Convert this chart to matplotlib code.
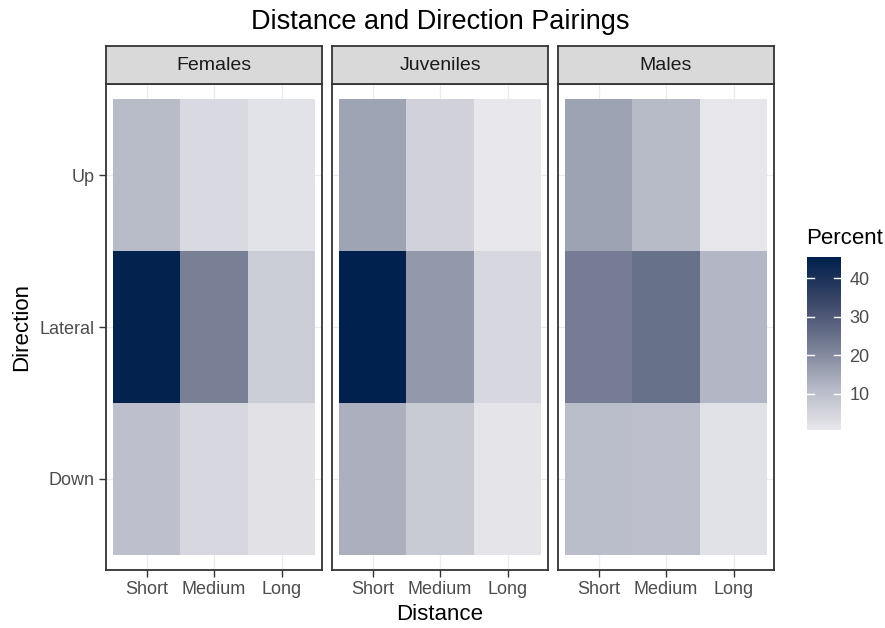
import numpy as np
import matplotlib
matplotlib.use("Agg")
import matplotlib.pyplot as plt
from matplotlib.colors import LinearSegmentedColormap, Normalize
from matplotlib.patches import Rectangle

plt.rcParams['font.family'] = ['Liberation Sans', 'DejaVu Sans']

# ---- data -------------------------------------------------------------
groups = ["Females", "Juveniles", "Males"]
distances = ["Short", "Medium", "Long"]
directions = ["Down", "Lateral", "Up"]

# percent per (direction, distance); rows follow `directions`, cols `distances`
females = [[10.0, 4.5, 2.2],
           [45.0, 22.0, 6.5],
           [11.0, 3.8, 1.8]]
juveniles = [[13.3, 7.5, 1.5],
             [45.6, 17.5, 4.5],
             [15.3, 5.9, 0.5]]
males = [[10.5, 10.0, 2.0],
         [22.7, 25.2, 12.0],
         [15.5, 11.2, 1.0]]
panels = [females, juveniles, males]
cbar_ticks = [10, 20, 30, 40]

# ---- colour scale -----------------------------------------------------
cmap = LinearSegmentedColormap.from_list(
    "percent",
    [(0.0, "#E8E8EC"), (0.25, "#B4B7C5"), (0.5, "#737B92"),
     (0.75, "#3A4667"), (1.0, "#00204D")])
allvals = np.array(panels, float)
norm = Normalize(vmin=allvals.min(), vmax=allvals.max())

# ---- figure -----------------------------------------------------------
W, H = 885, 628
fig = plt.figure(figsize=(W / 100, H / 100), dpi=100)

def px(x0, y0, x1, y1):
    return [x0 / W, 1 - y1 / H, (x1 - x0) / W, (y1 - y0) / H]

panel_x = [(106, 322), (332, 548), (558, 774)]
panel_top, panel_bot = 84, 570
strip_top = 46
border = "#333333"
tick_fs = 13

for k, (name, data) in enumerate(zip(groups, panels)):
    x0, x1 = panel_x[k]
    ax = fig.add_axes(px(x0, panel_top, x1, panel_bot))
    ax.set_xlim(0.4, 3.6)
    ax.set_ylim(0.4, 3.6)
    for v in range(1, 4):
        ax.axvline(v, color="#EBEBEB", lw=0.9, zorder=0)
        ax.axhline(v, color="#EBEBEB", lw=0.9, zorder=0)
    arr = np.array(data, float)
    for i in range(3):
        for j in range(3):
            ax.add_patch(Rectangle((j + 0.5, i + 0.5), 1, 1,
                                   facecolor=cmap(norm(arr[i, j])),
                                   edgecolor="none", zorder=1))
    ax.set_xticks([1, 2, 3])
    ax.set_xticklabels(distances)
    ax.set_yticks([1, 2, 3])
    ax.tick_params(axis="both", colors="#333333", labelcolor="#4D4D4D",
                   labelsize=tick_fs, length=5, width=1.0, pad=3)
    if k == 0:
        ax.set_yticklabels(directions)
    else:
        ax.set_yticklabels([])
        ax.tick_params(axis="y", length=0)
    for s in ax.spines.values():
        s.set_color(border)
        s.set_linewidth(1.3)

    # facet strip
    sax = fig.add_axes(px(x0, strip_top, x1, panel_top))
    sax.set_facecolor("#D9D9D9")
    sax.set_xticks([])
    sax.set_yticks([])
    for s in sax.spines.values():
        s.set_color(border)
        s.set_linewidth(1.3)
    sax.text(0.5, 0.5, name, ha="center", va="center", fontsize=14,
             color="#1A1A1A", transform=sax.transAxes)

# titles
fig.text(440 / W, 1 - 22 / H, "Distance and Direction Pairings",
         ha="center", va="center", fontsize=19.5, color="black")
fig.text(440 / W, 1 - 614 / H, "Distance", ha="center", va="center",
         fontsize=16, color="black")
fig.text(22 / W, 1 - 327 / H, "Direction", ha="center", va="center",
         fontsize=16, rotation=90, color="black")

# colour bar
cax = fig.add_axes(px(807, 257, 841, 430))
grad = np.linspace(norm.vmin, norm.vmax, 300).reshape(-1, 1)
cax.imshow(grad, aspect="auto", cmap=cmap, norm=norm, origin="lower",
           extent=[0, 1, norm.vmin, norm.vmax])
cax.set_xlim(0, 1)
cax.set_ylim(norm.vmin, norm.vmax)
for t in cbar_ticks:
    cax.plot([0, 0.2], [t, t], color="white", lw=1.0)
    cax.plot([0.8, 1], [t, t], color="white", lw=1.0)
cax.set_xticks([])
cax.yaxis.tick_right()
cax.set_yticks(cbar_ticks)
cax.tick_params(axis="y", length=0, labelsize=tick_fs, labelcolor="#4D4D4D", pad=6)
for s in cax.spines.values():
    s.set_visible(False)
fig.text(806 / W, 1 - 238 / H, "Percent", ha="left", va="center",
         fontsize=16, color="black")

fig.savefig("out.png", dpi=100)
